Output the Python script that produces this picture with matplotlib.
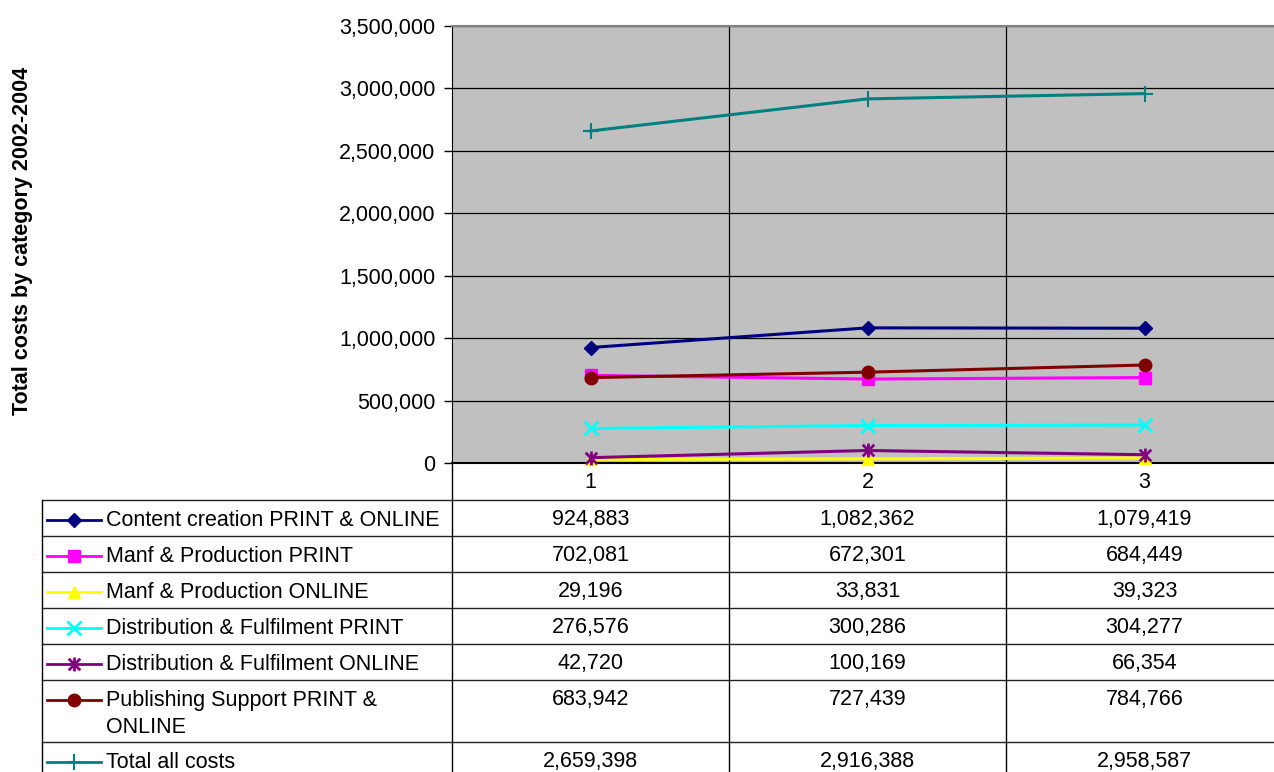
import matplotlib
matplotlib.use("Agg")
import matplotlib.pyplot as plt
from matplotlib.path import Path
from matplotlib.ticker import FuncFormatter

plt.rcParams['font.family'] = ['Liberation Sans', 'DejaVu Sans']

# data
categories = ["1", "2", "3"]
series_names = [
    "Content creation PRINT & ONLINE",
    "Manf & Production PRINT",
    "Manf & Production ONLINE",
    "Distribution & Fulfilment PRINT",
    "Distribution & Fulfilment ONLINE",
    "Publishing Support PRINT &\nONLINE",
    "Total all costs",
]
content_creation = [924883, 1082362, 1079419]
manf_print = [702081, 672301, 684449]
manf_online = [29196, 33831, 39323]
dist_print = [276576, 300286, 304277]
dist_online = [42720, 100169, 66354]
pub_support = [683942, 727439, 784766]
total_costs = [2659398, 2916388, 2958587]
series_values = [content_creation, manf_print, manf_online, dist_print,
                 dist_online, pub_support, total_costs]
y_ticks = [0, 500000, 1000000, 1500000, 2000000, 2500000, 3000000, 3500000]

# excel style star: x plus a vertical bar
star = Path([(-1, -1), (1, 1), (-1, 1), (1, -1), (0, -1.2), (0, 1.2)],
            [Path.MOVETO, Path.LINETO, Path.MOVETO, Path.LINETO,
             Path.MOVETO, Path.LINETO])

# styles
colors = ["#000080", "#FF00FF", "#FFFF00", "#00FFFF", "#800080", "#800000", "#008080"]
markers = ["D", "s", "^", "x", star, "o", "+"]
msizes = [7.5, 8, 8.5, 10, 10, 9, 12]
mews = [1, 1, 1, 2, 2, 1, 1.5]
FS = 15.5

W, H = 1274, 772
fig = plt.figure(figsize=(W / 100, H / 100), dpi=100)

# plot area in pixels
px_left, px_right, px_top, px_bottom = 452, 1283, 26, 463
ax = fig.add_axes([px_left / W, 1 - px_bottom / H, (px_right - px_left) / W,
                   (px_bottom - px_top) / H])
ax.set_facecolor("#C0C0C0")

x = list(range(1, len(categories) + 1))
for vals, c, m, ms, mew in zip(series_values, colors, markers, msizes, mews):
    ax.plot(x, vals, color=c, lw=2.2, marker=m, ms=ms, mec=c, mfc=c, mew=mew,
            clip_on=False, zorder=3)

ax.set_xlim(0.5, len(categories) + 0.5)
ax.set_ylim(0, 3500000)
ax.set_yticks(y_ticks)
ax.yaxis.set_major_formatter(FuncFormatter(lambda v, p: f"{int(v):,}"))
ax.set_xticks([i + 0.5 for i in x[:-1]])
ax.set_xticklabels([])
ax.tick_params(axis="x", length=0)
ax.tick_params(axis="y", length=6, width=1, pad=6, labelsize=FS, color="black")
ax.grid(True, color="black", lw=0.9, zorder=1)
ax.set_axisbelow(True)
ax.spines["right"].set_visible(False)
ax.spines["top"].set_color("#808080")
ax.spines["top"].set_linewidth(1.5)
ax.spines["left"].set_color("black")
ax.spines["bottom"].set_color("black")
ax.spines["bottom"].set_linewidth(1.5)

fig.text(23 / W, 1 - 241 / H, "Total costs by category 2002-2004", rotation=90,
         ha="center", va="center", fontsize=FS, fontweight="bold")

# data table drawn in pixel coords
tab = fig.add_axes([0, 0, 1, 1], zorder=-1)
tab.set_xlim(0, W)
tab.set_ylim(H, 0)
tab.axis("off")

fig.canvas.draw()
col_centers = [ax.transData.transform((xi, 0))[0] for xi in x]
col_bounds = [ax.transData.transform((xi + 0.5, 0))[0] for xi in x[:-1]]

row_edges = [500, 536, 572, 608, 644, 680, 742, 778]
table_left = 42

# category labels row
for cx, lab in zip(col_centers, categories):
    tab.text(cx, 482, lab, ha="center", va="center", fontsize=FS)

# grid lines of the table
for xb in [px_left] + col_bounds:
    tab.plot([xb, xb], [px_bottom, H], color="black", lw=1)
tab.plot([table_left, table_left], [row_edges[0], H], color="black", lw=1)
for ye in row_edges[:-1]:
    tab.plot([table_left, W], [ye, ye], color="#222222", lw=1)

for i, (name, vals) in enumerate(zip(series_names, series_values)):
    top = row_edges[i]
    bot = row_edges[i + 1]
    two_line = "\n" in name
    ty = top + 20 if two_line else (top + bot) / 2 + 2
    tab.plot([47, 101], [ty, ty], color=colors[i], lw=2)
    tab.plot([74], [ty], marker=markers[i], ms=msizes[i], color=colors[i],
             mec=colors[i], mew=mews[i])
    if two_line:
        tab.text(106, ty + 14, name, ha="left", va="center", fontsize=FS,
                 linespacing=1.32)
    else:
        tab.text(106, ty, name, ha="left", va="center", fontsize=FS)
    for cx, v in zip(col_centers, vals):
        tab.text(cx, ty, f"{v:,}", ha="center", va="center", fontsize=FS)

fig.savefig("out.png", dpi=100)
